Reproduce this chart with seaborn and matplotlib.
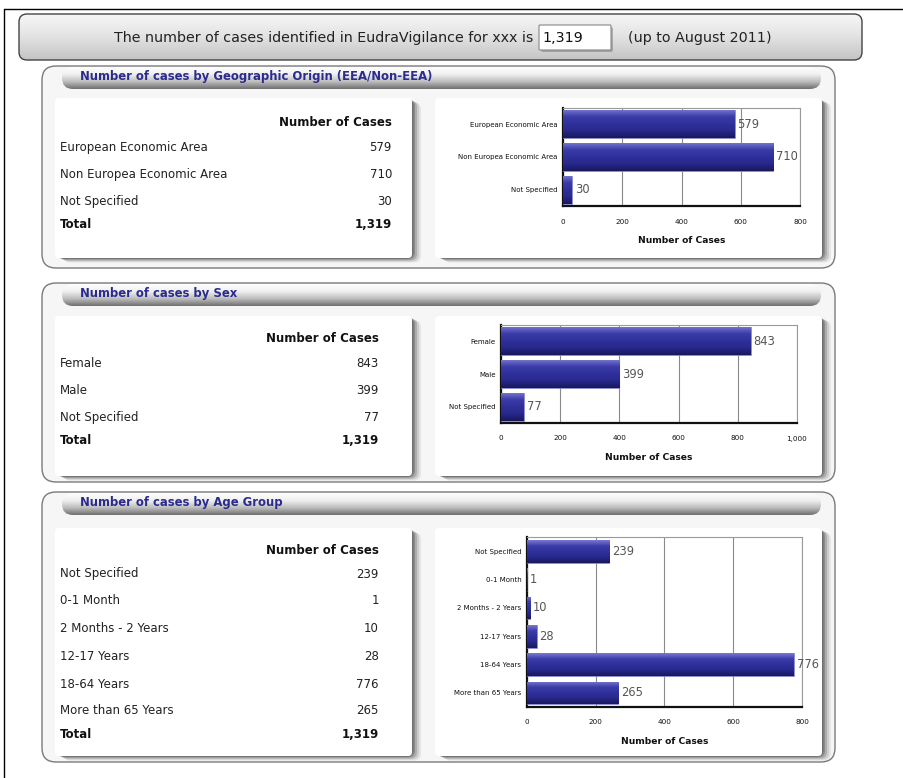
import numpy as np
import pandas as pd
import matplotlib
matplotlib.use("Agg")
import matplotlib.pyplot as plt
import seaborn as sns
from matplotlib.patches import FancyBboxPatch
from matplotlib.colors import LinearSegmentedColormap
from matplotlib.ticker import FuncFormatter

# ---------------- data ----------------
total_cases = "1,319"
period_text = "(up to August 2011)"
header_text = "The number of cases identified in EudraVigilance for xxx is"

geo_title = "Number of cases by Geographic Origin (EEA/Non-EEA)"
geo_cats = ["European Economic Area", "Non Europea Economic Area", "Not Specified"]
geo_vals = [579, 710, 30]

sex_title = "Number of cases by Sex"
sex_cats = ["Female", "Male", "Not Specified"]
sex_vals = [843, 399, 77]

age_title = "Number of cases by Age Group"
age_cats = ["Not Specified", "0-1 Month", "2 Months - 2 Years", "12-17 Years",
            "18-64 Years", "More than 65 Years"]
age_vals = [239, 1, 10, 28, 776, 265]

col_header = "Number of Cases"
total_label = "Total"

# ---------------- setup ----------------
sns.set_style("white")
plt.rcParams["font.family"] = ["DejaVu Sans"]
W, H = 904, 778
fig = plt.figure(figsize=(W / 100, H / 100), dpi=100)
fig.patch.set_facecolor("white")

bg = fig.add_axes([0, 0, 1, 1], zorder=0)
bg.set_xlim(0, W)
bg.set_ylim(H, 0)
bg.axis("off")

BLUE_TXT = "#2b2b8f"


def grad_box(x, y, w, h, stops, r, ec="none", lw=1.0, z=1):
    patch = FancyBboxPatch((x, y), w, h, boxstyle=f"round,pad=0,rounding_size={r}",
                           fc="none", ec=ec, lw=lw, zorder=z + 0.1)
    bg.add_patch(patch)
    cmap = LinearSegmentedColormap.from_list("g", stops)
    g = np.linspace(0, 1, 256).reshape(-1, 1)
    im = bg.imshow(g, extent=(x, x + w, y + h, y), cmap=cmap, aspect="auto",
                   origin="upper", zorder=z, interpolation="bilinear")
    im.set_clip_path(patch)
    return patch


def flat_box(x, y, w, h, fc, r, ec="none", lw=1.0, z=1, alpha=1.0):
    p = FancyBboxPatch((x, y), w, h, boxstyle=f"round,pad=0,rounding_size={r}",
                       fc=fc, ec=ec, lw=lw, zorder=z, alpha=alpha)
    bg.add_patch(p)
    return p


def card(x, y, w, h, z=3):
    # soft shadow on right / bottom
    for k, a in [(9, 0.10), (7, 0.16), (5, 0.24), (3, 0.34), (1.5, 0.4)]:
        flat_box(x + k, y + k * 0.5, w, h, "#4a4a4a", 7, z=z - 0.5, alpha=a)
    flat_box(x, y, w, h, "white", 4, z=z)


# outer frame lines
bg.plot([4, W], [9, 9], color="black", lw=1.0, zorder=1)
bg.plot([4, 4], [9, H], color="black", lw=1.0, zorder=1)

# header bar
grad_box(19, 14, 843, 46, ["#f7f7f7", "#e2e2e2", "#c4c4c4"], 8, ec="#444444", lw=1.0, z=1)
bg.text(533, 38, header_text, ha="right", va="center", fontsize=10.3, color="#222222", zorder=5)
flat_box(541, 27, 72, 25, "#777777", 2, z=4, alpha=0.5)
flat_box(539, 25, 72, 25, "white", 1, ec="#888888", lw=0.8, z=4.2)
bg.text(542, 38, total_cases, ha="left", va="center", fontsize=10.3, color="#111111", zorder=5)
bg.text(628, 38, period_text, ha="left", va="center", fontsize=10.3, color="#222222", zorder=5)


def panel(y0, y1, title):
    flat_box(42, y0, 793, y1 - y0, "#f6f6f6", 14, ec="#7a7a7a", lw=1.0, z=1)
    grad_box(62, y0 + 1, 759, 22, ["#ffffff", "#efefef", "#bdbdbd", "#6e6e6e"], 11, z=2)
    bg.text(80, y0 + 10, title, ha="left", va="center", fontsize=8.4, fontweight="bold",
            color=BLUE_TXT, zorder=5)


def table(cards_y, head_y, row_ys, total_y, right_x, cats, vals, total):
    bg.text(right_x, head_y, col_header, ha="right", va="center", fontsize=8.5,
            fontweight="bold", color="#111111", zorder=5)
    for c, v, yy in zip(cats, vals, row_ys):
        bg.text(60, yy, c, ha="left", va="center", fontsize=8.5, color="#222222", zorder=5)
        bg.text(right_x, yy, f"{v:,}", ha="right", va="center", fontsize=8.5,
                color="#222222", zorder=5)
    bg.text(60, total_y, total_label, ha="left", va="center", fontsize=8.5,
            fontweight="bold", color="#111111", zorder=5)
    bg.text(right_x, total_y, total, ha="right", va="center", fontsize=8.5,
            fontweight="bold", color="#111111", zorder=5)


BAR_CMAP = LinearSegmentedColormap.from_list(
    "bar", ["#7a7ad0", "#3c3caa", "#30309c", "#28288c", "#18185e"])


def chart(px0, py0, px1, py1, cats, vals, xmax, ticks, bar_w):
    ax = fig.add_axes([px0 / W, 1 - py1 / H, (px1 - px0) / W, (py1 - py0) / H], zorder=6)
    df = pd.DataFrame({"cat": cats, "val": vals})
    sns.barplot(data=df, x="val", y="cat", orient="h", color="#2e2e98",
                width=bar_w, edgecolor="#8c8cd0", linewidth=0.5, ax=ax, zorder=3)
    ax.set_xlim(0, xmax)
    ylim = ax.get_ylim()
    for p in list(ax.patches):
        x0, y0, w, h = p.get_x(), p.get_y(), p.get_width(), p.get_height()
        if w <= 0:
            continue
        g = np.linspace(0, 1, 64).reshape(-1, 1)
        im = ax.imshow(g, extent=(x0, x0 + w, y0 + h, y0), cmap=BAR_CMAP, aspect="auto",
                       origin="upper", zorder=3.5, interpolation="bilinear")
        im.set_clip_path(p)
    ax.set_xlim(0, xmax)
    ax.set_ylim(ylim)
    ax.bar_label(ax.containers[0], labels=[f"{v:,}" for v in vals], padding=2,
                 fontsize=8.3, color="#555555", zorder=7)
    ax.set_xticks(ticks)
    ax.xaxis.set_major_formatter(FuncFormatter(lambda v, _: f"{int(v):,}"))
    ax.tick_params(axis="x", length=0, pad=9, labelsize=5.2, labelcolor="#111111")
    ax.tick_params(axis="y", length=0, pad=4, labelsize=5.0, labelcolor="#111111")
    ax.grid(axis="x", color="#8a8a8a", lw=0.8, zorder=1)
    ax.grid(axis="y", visible=False)
    ax.set_axisbelow(True)
    ax.set_ylabel("")
    ax.set_xlabel(col_header, fontsize=6.6, fontweight="bold", labelpad=8, color="#111111")
    for s in ["top", "right"]:
        ax.spines[s].set_color("#9a9a9a")
        ax.spines[s].set_linewidth(0.8)
    for s in ["left", "bottom"]:
        ax.spines[s].set_color("#111111")
        ax.spines[s].set_linewidth(1.6)
    ax.set_facecolor("white")
    return ax


# ---------- panel 1 : geographic origin ----------
panel(66, 268, geo_title)
card(55, 98, 357, 160)
card(435, 98, 387, 160)
table(98, 122, [147, 174, 201], 224, 392, geo_cats, geo_vals, total_cases)
chart(563, 108, 800, 206, geo_cats, geo_vals, 800, [0, 200, 400, 600, 800], 0.86)

# ---------- panel 2 : sex ----------
panel(283, 482, sex_title)
card(55, 316, 357, 160)
card(435, 316, 387, 160)
table(316, 338, [363, 390, 417], 440, 379, sex_cats, sex_vals, total_cases)
chart(501, 325, 797, 423, sex_cats, sex_vals, 1000, [0, 200, 400, 600, 800, 1000], 0.86)

# ---------- panel 3 : age group ----------
panel(492, 762, age_title)
card(55, 528, 357, 228)
card(435, 528, 387, 228)
table(528, 550, [574, 601, 629, 656, 684, 711], 734, 379, age_cats, age_vals, total_cases)
chart(527, 537, 802, 707, age_cats, age_vals, 800, [0, 200, 400, 600, 800], 0.8)

bg.set_xlim(0, W)
bg.set_ylim(H, 0)
fig.savefig("out.png", dpi=100)
